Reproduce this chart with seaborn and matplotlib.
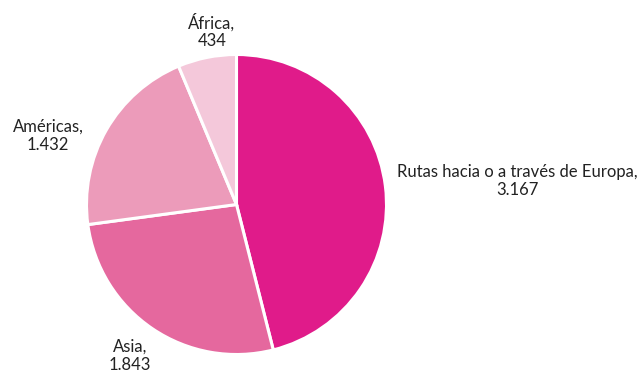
import matplotlib

matplotlib.use("Agg")
import matplotlib.pyplot as plt
import seaborn as sns

regions = ["Rutas hacia o a través de Europa", "Asia", "Américas", "África"]
counts = [3167, 1843, 1432, 434]
count_labels = ["3.167", "1.843", "1.432", "434"]
colors = ["#E01B8A", "#E5689E", "#EC9BBA", "#F4C8DA"]

sns.set_theme(style="white")
plt.rcParams["font.family"] = ["Lato", "DejaVu Sans"]

fig = plt.figure(figsize=(6.4, 3.74), dpi=100)
ax = fig.add_axes([0, 0, 1, 1])

ax.pie(
    counts,
    colors=colors,
    startangle=90,
    counterclock=False,
    center=(236.5, 169.5),
    radius=150,
    frame=True,
    wedgeprops={"edgecolor": "white", "linewidth": 2.2},
)
ax.set_xlim(0, 640)
ax.set_ylim(0, 374)
ax.set_axis_off()

# label spots (pixel coords, y from bottom)
spots = [(517, 193), (130, 18), (48, 238), (212, 343)]
for name, lab, (x, y) in zip(regions, count_labels, spots):
    ax.text(x, y, f"{name},\n{lab}", ha="center", va="center",
            fontsize=12, color="#222222", linespacing=1.15)

fig.savefig("out.png", dpi=100)
